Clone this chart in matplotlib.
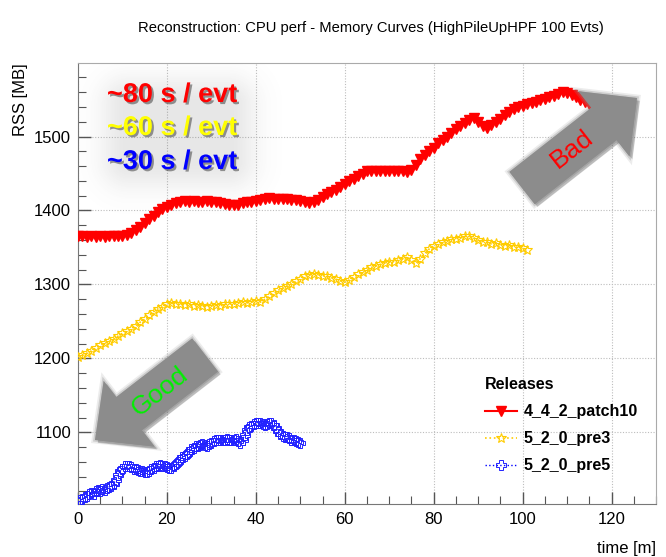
import numpy as np
import matplotlib
matplotlib.use("Agg")
import matplotlib.pyplot as plt
import matplotlib.patheffects as pe
from matplotlib.patches import Polygon
from matplotlib.ticker import MultipleLocator

plt.rcParams['font.family'] = ['Liberation Sans', 'DejaVu Sans']

# ---------------- data ----------------
title = "Reconstruction: CPU perf - Memory Curves (HighPileUpHPF 100 Evts)"
series_names = ["4_4_2_patch10", "5_2_0_pre3", "5_2_0_pre5"]

red_t = list(range(0, 116))
red_rss = [1366, 1365, 1364, 1365, 1364, 1365, 1364, 1365, 1365, 1366,
           1366, 1367, 1369, 1373, 1378, 1383, 1388, 1393, 1398, 1402,
           1405, 1408, 1410, 1411, 1413, 1412, 1413, 1412, 1411, 1413,
           1412, 1411, 1410, 1409, 1408, 1407, 1408, 1410, 1411, 1412,
           1413, 1414, 1416, 1417, 1416, 1415, 1416, 1415, 1414, 1414,
           1413, 1412, 1410, 1411, 1414, 1418, 1422, 1425, 1428, 1432,
           1436, 1440, 1443, 1447, 1450, 1453, 1454, 1453, 1454, 1453,
           1453, 1454, 1453, 1453, 1452, 1455, 1462, 1470, 1475, 1480,
           1485, 1491, 1496, 1500, 1505, 1510, 1514, 1519, 1523, 1525,
           1520, 1514, 1512, 1516, 1520, 1524, 1529, 1533, 1537, 1540,
           1542, 1544, 1545, 1547, 1549, 1551, 1553, 1555, 1558, 1560,
           1559, 1556, 1553, 1550, 1547, 1544]

yel_t = list(range(0, 102))
yel_rss = [1202, 1205, 1207, 1210, 1214, 1218, 1221, 1223, 1226, 1230,
           1234, 1237, 1240, 1244, 1249, 1253, 1258, 1263, 1267, 1270,
           1273, 1275, 1274, 1273, 1272, 1273, 1271, 1272, 1271, 1270,
           1271, 1272, 1271, 1273, 1274, 1273, 1275, 1276, 1275, 1276,
           1277, 1276, 1280, 1284, 1288, 1292, 1295, 1298, 1301, 1304,
           1308, 1311, 1313, 1314, 1313, 1312, 1311, 1309, 1307, 1305,
           1303, 1306, 1310, 1314, 1317, 1320, 1323, 1325, 1327, 1329,
           1330, 1331, 1333, 1335, 1337, 1333, 1329, 1335, 1342, 1348,
           1352, 1355, 1357, 1359, 1361, 1362, 1363, 1365, 1366, 1363,
           1360, 1358, 1357, 1355, 1356, 1354, 1352, 1353, 1351, 1350,
           1349, 1347]

blu_t = [i * 0.5 for i in range(0, 101)]
blu_rss = [1005, 1008, 1010, 1012, 1014, 1016, 1018, 1017, 1020, 1022,
           1021, 1023, 1022, 1024, 1026, 1027, 1030, 1036, 1042, 1047,
           1051, 1054, 1055, 1054, 1053, 1051, 1050, 1049, 1048, 1047,
           1046, 1046, 1048, 1050, 1052, 1054, 1055, 1056, 1055, 1054,
           1053, 1052, 1052, 1054, 1057, 1060, 1063, 1066, 1068, 1071,
           1074, 1077, 1079, 1081, 1082, 1083, 1084, 1083, 1082, 1084,
           1086, 1088, 1089, 1090, 1090, 1089, 1090, 1091, 1090, 1089,
           1090, 1091, 1088, 1085, 1090, 1097, 1103, 1107, 1109, 1111,
           1112, 1113, 1112, 1111, 1110, 1111, 1112, 1112, 1110, 1106,
           1102, 1098, 1095, 1094, 1093, 1092, 1090, 1089, 1088, 1087,
           1086]

speed_labels = ["~80 s / evt", "~60 s / evt", "~30 s / evt"]
speed_colors = ["#ff0000", "#ffff00", "#0000ff"]

# ---------------- figure ----------------
W, H = 666, 557
fig = plt.figure(figsize=(W / 100, H / 100), dpi=100, facecolor="white")
ax = fig.add_axes([78 / W, 1 - 504 / H, (656 - 78) / W, (504 - 63) / H])
ax.set_xlim(0, 130)
ax.set_ylim(1003, 1599.5)

ax.plot(red_t, red_rss, color="#ff0000", lw=1.5, marker="v", ms=7,
        mec="#ff0000", mfc="#ff0000", label=series_names[0], zorder=4)
ax.plot(yel_t, yel_rss, color="#ffcc00", lw=1.2, ls=":", marker="*", ms=7,
        mfc="none", mec="#ffcc00", mew=0.8, label=series_names[1], zorder=3)
ax.plot(blu_t, blu_rss, color="#0000ff", lw=1.0, ls=":", marker="P", ms=6.5,
        mfc="none", mec="#2222ff", mew=0.7, label=series_names[2], zorder=3)

# axes style (ROOT-like)
ax.xaxis.set_major_locator(MultipleLocator(20))
ax.xaxis.set_minor_locator(MultipleLocator(5))
ax.yaxis.set_major_locator(MultipleLocator(100))
ax.yaxis.set_minor_locator(MultipleLocator(20))
ax.tick_params(which="both", direction="in", colors="#555555",
               labelcolor="black", labelsize=12, top=False, right=False)
ax.tick_params(which="major", length=9, width=1)
ax.tick_params(which="minor", length=6, width=0.8)
ax.tick_params(axis="y", pad=5)
ax.tick_params(axis="x", pad=6)
ax.grid(True, which="major", ls=(0, (1, 1.5)), color="#bdbdbd", lw=0.8)
ax.set_axisbelow(True)
for s in ["left", "bottom"]:
    ax.spines[s].set_color("#777777")
for s in ["top", "right"]:
    ax.spines[s].set_color("#aaaaaa")

fig.text(371 / W, 1 - 28 / H, title, ha="center", va="center", fontsize=10.6)
fig.text(21 / W, 1 - 63 / H, "RSS [MB]", rotation=90, ha="center", va="top",
         fontsize=12)
fig.text(656 / W, 1 - 548 / H, "time [m]", ha="right", va="center", fontsize=12)

# soft glow behind the speed labels
gx0, gx1, gy0, gy1 = 79, 285, 64, 215
xs = np.arange(gx0, gx1)
ys = np.arange(gy0, gy1)
XX, YY = np.meshgrid(xs, ys)
cx, cy, hw, hh = 178, 132, 50, 28
dx = np.clip(np.abs(XX - cx) - hw, 0, None)
dy = np.clip(np.abs(YY - cy) - hh, 0, None)
d = np.hypot(dx, dy)
alpha = 0.16 * np.exp(-(d / 28.0) ** 2)
img = np.zeros(alpha.shape + (4,))
img[..., :3] = 0.4
img[..., 3] = alpha
ax.imshow(img, extent=[gx0 / W, gx1 / W, 1 - gy1 / H, 1 - gy0 / H],
          transform=fig.transFigure, aspect="auto", zorder=1.5,
          interpolation="bilinear")

text_y = [95, 128, 162]
for lab, col, ty in zip(speed_labels, speed_colors, text_y):
    fig.text(107 / W, 1 - ty / H, lab, color=col, fontsize=19.5,
             fontweight="bold", ha="left", va="center", zorder=6,
             path_effects=[pe.SimplePatchShadow(offset=(1.5, -1.5),
                                                shadow_rgbFace="#333333",
                                                alpha=0.5),
                           pe.Normal()])


def block_arrow(tail, tip, shaft_hw, head_hw, head_len):
    t = np.array(tail, float)
    p = np.array(tip, float)
    u = (p - t) / np.linalg.norm(p - t)
    n = np.array([-u[1], u[0]])
    b = p - head_len * u
    pts = [t - shaft_hw * n, b - shaft_hw * n, b - head_hw * n, p,
           b + head_hw * n, b + shaft_hw * n, t + shaft_hw * n]
    return [(x / W, 1 - y / H) for x, y in pts]


arrow_fx = [pe.Stroke(linewidth=5, foreground="#999999", alpha=0.18),
            pe.Stroke(linewidth=2.5, foreground="#888888", alpha=0.3),
            pe.SimplePatchShadow(offset=(2, -2), alpha=0.25), pe.Normal()]
bad = Polygon(block_arrow((522, 188), (637, 98), 20.5, 41.5, 42),
              closed=True, transform=fig.transFigure, facecolor="#8c8c8c",
              edgecolor="none", zorder=7, path_effects=arrow_fx)
good = Polygon(block_arrow((205, 355), (95, 440), 21, 41.5, 43),
               closed=True, transform=fig.transFigure, facecolor="#8c8c8c",
               edgecolor="none", zorder=7, path_effects=arrow_fx)
fig.patches.extend([bad, good])
fig.text(572 / W, 1 - 149 / H, "Bad", color="#ff0000", fontsize=19,
         rotation=38, ha="center", va="center", zorder=8)
fig.text(160 / W, 1 - 392 / H, "Good", color="#00f000", fontsize=19,
         rotation=38, ha="center", va="center", zorder=8)

leg = ax.legend(loc="upper left", bbox_to_anchor=(474 / W, 1 - 366 / H),
                bbox_transform=fig.transFigure, frameon=False,
                title="Releases", alignment="left",
                title_fontproperties={"weight": "bold", "size": 11.5},
                prop={"weight": "bold", "size": 11.5}, handlelength=2.0,
                labelspacing=0.75, handletextpad=0.4, borderpad=0.2)

fig.savefig("out.png", dpi=100, facecolor="white")
